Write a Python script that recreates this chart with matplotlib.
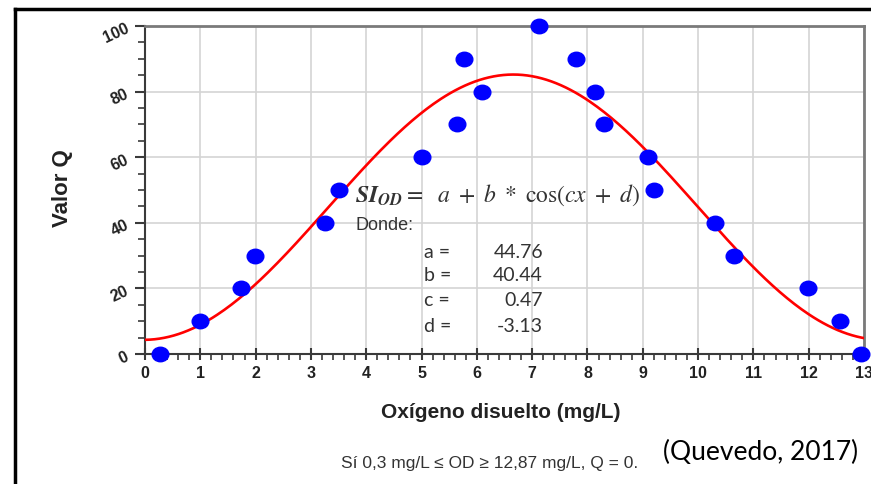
import numpy as np
import matplotlib
matplotlib.use("Agg")
import matplotlib.pyplot as plt
from matplotlib.lines import Line2D
from matplotlib.path import Path
from matplotlib.transforms import Affine2D

plt.rcParams['font.family'] = ['Liberation Sans', 'DejaVu Sans']
plt.rcParams['mathtext.fontset'] = 'stix'

## puntos medidos (oxigeno disuelto, valor Q)
od = [0.27, 1.0, 1.73, 1.98, 3.25, 3.5, 5.0, 5.64, 5.76, 6.1, 7.13,
      7.8, 8.13, 8.3, 9.1, 9.2, 10.3, 10.65, 11.98, 12.56, 12.95]
q = [0, 10, 20, 30, 40, 50, 60, 70, 90, 80, 100,
     90, 80, 70, 60, 50, 40, 30, 20, 10, 0]

## parametros del ajuste
a, b, c, d = 44.76, 40.44, 0.47, -3.13
param_names = ['a =', 'b =', 'c =', 'd =']
param_vals = ['44.76', '40.44', '0.47', '-3.13']

xticks = list(range(0, 14))
yticks = [0, 20, 40, 60, 80, 100]

fig = plt.figure(figsize=(8.71, 4.85), dpi=100)
ax = fig.add_axes([145/871, 1-355/485, 719/871, 328/485])

## curva del modelo
xs = np.linspace(0, 13, 300)
ax.plot(xs, a + b*np.cos(c*xs + d), color='#ff0000', lw=1.9, zorder=3)

## marcador eliptico
ell = Path.unit_circle().transformed(Affine2D().scale(1.15, 1.0))
ax.plot(od, q, linestyle='none', marker=ell, markersize=12,
        color='#0000ff', mec='#0000ff', zorder=4, clip_on=False)

ax.set_xlim(0, 13)
ax.set_ylim(0, 100)
ax.set_xticks(xticks)
ax.set_yticks(yticks)
ax.set_xticks(np.arange(0, 13.01, 0.2), minor=True)
ax.set_yticks(np.arange(0, 100.1, 5), minor=True)
ax.grid(True, which='major', color='#d4d4d4', lw=1.2, zorder=0)
for s in ['top', 'right']:
    ax.spines[s].set_color('#7a7a7a')
    ax.spines[s].set_linewidth(2)
for s in ['left', 'bottom']:
    ax.spines[s].set_color('#3a3a3a')
    ax.spines[s].set_linewidth(1.5)
ax.tick_params(axis='x', which='major', direction='inout', length=8, width=1.5,
               color='#3a3a3a', labelsize=11.5, pad=4)
ax.tick_params(axis='x', which='minor', direction='out', length=4, width=1.2,
               color='#3a3a3a')
ax.tick_params(axis='y', which='major', direction='out', length=7, width=1.5,
               color='#3a3a3a', labelsize=11.5, pad=3)
ax.tick_params(axis='y', which='minor', direction='out', length=5, width=1.2,
               color='#3a3a3a')
for t in ax.get_xticklabels():
    t.set_fontweight('bold')
    t.set_color('#222222')
for t in ax.get_yticklabels():
    t.set_fontweight('bold')
    t.set_color('#222222')
    t.set_rotation(25)

fig.text(62/871, 1-188/485, 'Valor Q', rotation=90, ha='center', va='center',
         fontsize=16, fontweight='bold', color='#222222')
fig.text(501/871, 1-413/485, 'Oxígeno disuelto (mg/L)', ha='center', va='center',
         fontsize=15, fontweight='bold', color='#222222')
fig.text(490/871, 1-464/485, 'Sí 0,3 mg/L ≤ OD ≥ 12,87 mg/L, Q = 0.',
         ha='center', va='center', fontsize=12.5, color='#333333')
fig.text(858/871, 1-452/485, '(Quevedo, 2017)', ha='right', va='center',
         fontsize=19, color='#000000', family=['Lato', 'DejaVu Sans'])

## ecuacion y parametros
fig.text(355/871, 1-195/485,
         r'$\mathbfit{SI}_{\mathbfit{OD}} =\ \ a\ +\ b\ *\ \mathrm{cos}(cx\ +\ d)$',
         ha='left', va='center', fontsize=17, color='#333333')
fig.text(355/871, 1-225/485, 'Donde:', ha='left', va='center',
         fontsize=13, color='#333333')
rows_y = [252, 276, 301, 326]
for nm, v, yy in zip(param_names, param_vals, rows_y):
    fig.text(424/871, 1-yy/485, nm, ha='left', va='center', fontsize=14,
             color='#333333', family=['Lato', 'DejaVu Sans'])
    fig.text(543/871, 1-yy/485, v, ha='right', va='center', fontsize=14,
             color='#333333', family=['Lato', 'DejaVu Sans'])

## marco negro
fig.add_artist(Line2D([15/871, 1], [1-10/485, 1-10/485], color='black', lw=2.5))
fig.add_artist(Line2D([15/871, 15/871], [0, 1-10/485], color='black', lw=2.5))

fig.savefig('out.png', dpi=100)
